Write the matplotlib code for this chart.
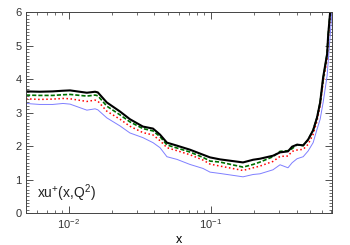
import matplotlib
matplotlib.use("Agg")
import matplotlib.pyplot as plt
from matplotlib.ticker import MultipleLocator, LogLocator, NullFormatter

plt.rcParams["font.family"] = ["Liberation Sans", "DejaVu Sans"]
plt.rcParams["mathtext.fontset"] = "custom"
plt.rcParams["mathtext.rm"] = "Liberation Sans"
plt.rcParams["mathtext.default"] = "regular"

# x grid shared by all four curves
x = [0.005, 0.00625, 0.0077, 0.0091, 0.0102, 0.0134, 0.0153, 0.016, 0.0185,
     0.0229, 0.0269, 0.0332, 0.0391, 0.0438, 0.049, 0.0577, 0.0711, 0.0879,
     0.0985, 0.116, 0.168, 0.198, 0.221, 0.273, 0.306, 0.348, 0.372, 0.403,
     0.445, 0.482, 0.523, 0.557, 0.586, 0.615, 0.656, 0.667, 0.689, 0.711]

black = [3.63, 3.62, 3.63, 3.65, 3.66, 3.59, 3.62, 3.60, 3.30,
         3.03, 2.80, 2.58, 2.52, 2.34, 2.10, 2.01, 1.89, 1.74,
         1.66, 1.60, 1.51, 1.59, 1.62, 1.71, 1.81, 1.84, 1.98, 2.04,
         2.02, 2.19, 2.47, 2.85, 3.30, 4.05, 4.75, 5.30, 6.00, 6.80]

green = [3.52, 3.51, 3.51, 3.53, 3.54, 3.49, 3.52, 3.50, 3.19,
         2.93, 2.72, 2.52, 2.45, 2.28, 2.03, 1.94, 1.82, 1.66,
         1.55, 1.52, 1.37, 1.45, 1.52, 1.68, 1.84, 1.86, 1.92, 2.04,
         2.01, 2.19, 2.47, 2.85, 3.30, 4.00, 4.75, 5.30, 6.00, 6.80]

red = [3.41, 3.39, 3.40, 3.42, 3.41, 3.33, 3.37, 3.34, 3.04,
       2.80, 2.59, 2.40, 2.33, 2.16, 1.95, 1.86, 1.74, 1.58,
       1.46, 1.40, 1.27, 1.35, 1.40, 1.54, 1.69, 1.70, 1.84, 1.88,
       1.90, 2.05, 2.35, 2.75, 3.20, 3.90, 4.60, 5.20, 5.90, 6.60]

blue = [3.27, 3.24, 3.24, 3.27, 3.25, 3.07, 3.11, 3.08, 2.84,
        2.60, 2.39, 2.25, 2.10, 1.95, 1.68, 1.60, 1.45, 1.33,
        1.22, 1.18, 1.08, 1.15, 1.17, 1.29, 1.44, 1.35, 1.50, 1.62,
        1.68, 1.85, 2.10, 2.50, 2.80, 3.30, 4.10, 4.50, 5.30, 6.05]

fig = plt.figure(figsize=(3.5, 2.45), dpi=100)
ax = fig.add_axes([0.0743, 0.1306, 0.8743, 0.8204])

ax.plot(x, blue, "-", color="#7f7fff", lw=0.7)
ax.plot(x, red, ":", color="red", lw=1.1)
ax.plot(x, green, "--", color="#007000", lw=1.2, dashes=(2.5, 1.2))
ax.plot(x, black, "-", color="black", lw=1.5)

ax.set_xscale("log")
ax.set_xlim(0.005, 0.71)
ax.set_ylim(0, 6)

# Ticks: inward on all sides
ax.yaxis.set_major_locator(MultipleLocator(1))
ax.yaxis.set_minor_locator(MultipleLocator(0.1))
ax.xaxis.set_major_locator(LogLocator(base=10))
ax.xaxis.set_minor_locator(LogLocator(base=10, subs=range(2, 10)))
ax.xaxis.set_minor_formatter(NullFormatter())
ax.tick_params(which="both", direction="in", top=True, right=True,
               labelsize=8, colors="#333333", pad=3)
ax.tick_params(which="major", length=5, width=0.6)
ax.tick_params(which="minor", length=2.5, width=0.5)
for s in ax.spines.values():
    s.set_linewidth(0.7)
    s.set_color("#444444")

ax.set_xlabel("x", fontsize=9, labelpad=2)
ax.text(0.035, 0.045, r"xu$^{+}$(x,Q$^{2}$)", transform=ax.transAxes,
        fontsize=10, ha="left", va="bottom", color="#222222")

fig.savefig("out.png", dpi=100)
